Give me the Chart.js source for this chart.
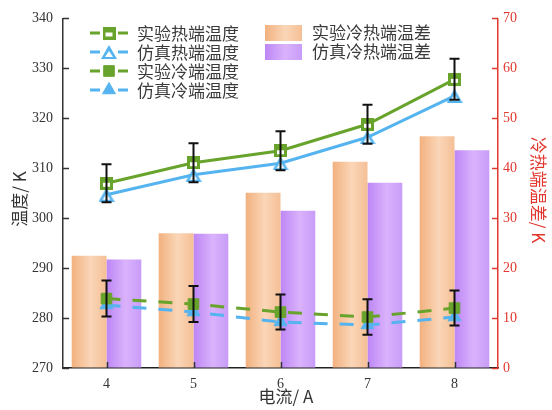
<!DOCTYPE html>
<html><head><meta charset="utf-8">
<script src="https://cdn.jsdelivr.net/npm/chart.js@4.4.0/dist/chart.umd.min.js"></script>
<style>html,body{margin:0;padding:0;background:#fff}canvas{display:block}</style>
</head><body>
<canvas id="c" width="552" height="410"></canvas>
<script>
// Current (A) on the category axis
const currents = ['4', '5', '6', '7', '8'];
// Hot / cold end temperatures (K), left axis
const hotExp = [307.0, 311.1, 313.5, 318.8, 327.8];
const hotSim = [304.7, 308.7, 311.0, 316.2, 324.5];
const coldExp = [283.9, 282.8, 281.2, 280.2, 282.0];
const coldSim = [282.6, 281.2, 279.2, 278.6, 280.2];
// Measurement uncertainty of the experimental series (K)
const hotExpErr = [3.8, 3.9, 3.9, 3.9, 4.1];
const coldExpErr = [3.6, 3.6, 3.5, 3.55, 3.5];
// Hot-cold temperature difference (K), right axis
const diffExp = [22.5, 27.0, 35.1, 41.3, 46.4];
const diffSim = [21.7, 26.9, 31.5, 37.1, 43.6];

const GREEN = '#68a32c';
const BLUE = '#55b4ef';
const RED = '#e2382f';
const CJK = '"Noto Sans CJK SC", sans-serif';
const SERIF = '"Liberation Serif", "DejaVu Serif", serif';

const barStops = {
  orange: ['#f2b17f', '#fad6b8', '#f5bf95'],
  purple: ['#bd86f5', '#dab2fc', '#c89cf8']
};

function hGradient(ctx, x0, x1, stops) {
  const g = ctx.createLinearGradient(x0, 0, x1, 0);
  g.addColorStop(0, stops[0]);
  g.addColorStop(0.55, stops[1]);
  g.addColorStop(1, stops[2]);
  return g;
}

// Half-filled marker glyphs for the hot-end series
function squareMarker(color) {
  const c = document.createElement('canvas');
  c.width = 13; c.height = 13;
  const g = c.getContext('2d');
  g.fillStyle = color;
  g.fillRect(0, 0, 13, 13);
  g.fillStyle = '#ffffff';
  g.fillRect(3, 6, 7, 4);
  return c;
}
function triangleMarker(color) {
  const c = document.createElement('canvas');
  c.width = 16; c.height = 14;
  const g = c.getContext('2d');
  g.fillStyle = color;
  g.beginPath(); g.moveTo(8, 0); g.lineTo(16, 14); g.lineTo(0, 14); g.closePath(); g.fill();
  g.fillStyle = '#ffffff';
  g.beginPath(); g.moveTo(8, 6); g.lineTo(12, 12); g.lineTo(4, 12); g.closePath(); g.fill();
  return c;
}
const hotSquare = squareMarker(GREEN);
const hotTriangle = triangleMarker(BLUE);

// Fixed axis sizes so the plot area sits where it should
const fixWidth = w => scale => { scale.width = w; };

// Horizontal gradient on each bar
const barGradient = {
  id: 'barGradient',
  beforeDatasetsDraw(chart) {
    const ctx = chart.ctx;
    chart.data.datasets.forEach((ds, i) => {
      if (ds.type !== 'bar') return;
      chart.getDatasetMeta(i).data.forEach(el => {
        const p = el.getProps(['x', 'width'], true);
        el.options.backgroundColor = hGradient(ctx, p.x - p.width / 2, p.x + p.width / 2, barStops[ds.gradient]);
      });
    });
  }
};

// Error bars for the experimental series
const errorBars = {
  id: 'errorBars',
  afterDatasetsDraw(chart) {
    const ctx = chart.ctx;
    const x = chart.scales.x, y = chart.scales.y;
    ctx.save();
    ctx.strokeStyle = '#111';
    ctx.lineWidth = 2;
    chart.data.datasets.forEach(ds => {
      if (!ds.err) return;
      ds.data.forEach((v, i) => {
        const px = x.getPixelForValue(i);
        const top = y.getPixelForValue(v + ds.err[i]);
        const bot = y.getPixelForValue(v - ds.err[i]);
        ctx.beginPath();
        ctx.moveTo(px, top); ctx.lineTo(px, bot);
        ctx.moveTo(px - 5, top); ctx.lineTo(px + 5, top);
        ctx.moveTo(px - 5, bot); ctx.lineTo(px + 5, bot);
        ctx.stroke();
      });
    });
    ctx.restore();
  }
};

// Inward tick marks on all three axes
const innerTicks = {
  id: 'innerTicks',
  afterDraw(chart) {
    const ctx = chart.ctx, a = chart.chartArea;
    const {x, y, y2} = chart.scales;
    ctx.save();
    ctx.lineWidth = 1.5;
    ctx.strokeStyle = '#333';
    y.ticks.forEach((t, i) => {
      const py = Math.round(y.getPixelForTick(i)) + 0.5;
      ctx.beginPath(); ctx.moveTo(a.left, py); ctx.lineTo(a.left + 6, py); ctx.stroke();
    });
    x.ticks.forEach((t, i) => {
      const px = Math.round(x.getPixelForValue(i)) + 0.5;
      ctx.beginPath(); ctx.moveTo(px, a.bottom); ctx.lineTo(px, a.bottom - 6); ctx.stroke();
    });
    ctx.strokeStyle = RED;
    y2.ticks.forEach((t, i) => {
      const py = Math.round(y2.getPixelForTick(i)) + 0.5;
      ctx.beginPath(); ctx.moveTo(a.right, py); ctx.lineTo(a.right - 6, py); ctx.stroke();
    });
    ctx.restore();
  }
};

// Legends and axis titles
const annotations = {
  id: 'annotations',
  afterDraw(chart) {
    const ctx = chart.ctx;
    const drawPoint = Chart.helpers.drawPoint;
    ctx.save();
    ctx.textBaseline = 'middle';
    ctx.font = '17px ' + CJK;

    // line series legend
    let row = 0;
    chart.data.datasets.forEach(ds => {
      if (ds.type !== 'line') return;
      const cy = 33 + row * 19;
      ctx.strokeStyle = ds.borderColor;
      ctx.lineWidth = 3;
      ctx.setLineDash([]);
      ctx.beginPath(); ctx.moveTo(90, cy); ctx.lineTo(100, cy); ctx.moveTo(118, cy); ctx.lineTo(128, cy); ctx.stroke();
      ctx.fillStyle = ds.pointBackgroundColor;
      ctx.strokeStyle = ds.borderColor;
      ctx.lineWidth = ds.pointBorderWidth;
      drawPoint(ctx, {pointStyle: ds.pointStyle, radius: ds.pointRadius, borderWidth: ds.pointBorderWidth, rotation: 0}, 109, cy);
      ctx.fillStyle = '#3a3a3a';
      ctx.textAlign = 'left';
      ctx.fillText(ds.label, 137, cy + 1);
      row++;
    });

    // bar series legend
    row = 0;
    chart.data.datasets.forEach(ds => {
      if (ds.type !== 'bar') return;
      const top = 25 + row * 19;
      ctx.fillStyle = hGradient(ctx, 265, 302, barStops[ds.gradient]);
      ctx.fillRect(265, top, 37, 16);
      ctx.fillStyle = '#3a3a3a';
      ctx.fillText(ds.label, 312, top + 8);
      row++;
    });

    // axis titles
    ctx.textAlign = 'center';
    ctx.fillStyle = '#333';
    ctx.fillText('电流/ A', 286, 397);
    ctx.save();
    ctx.translate(20, 199);
    ctx.rotate(-Math.PI / 2);
    ctx.fillText('温度/ K', 0, 0);
    ctx.restore();
    ctx.save();
    ctx.translate(538, 190);
    ctx.rotate(Math.PI / 2);
    ctx.fillStyle = RED;
    ctx.fillText('冷热端温差/ K', 0, 0);
    ctx.restore();
    ctx.restore();
  }
};

const lineBase = {type: 'line', yAxisID: 'y', borderWidth: 3, order: 0};

new Chart(document.getElementById('c'), {
  data: {
    labels: currents,
    datasets: [
      {...lineBase, label: '实验热端温度', data: hotExp, err: hotExpErr, borderColor: GREEN,
        pointStyle: hotSquare, pointRadius: 7, pointBorderWidth: 0, pointBackgroundColor: GREEN, pointBorderColor: GREEN},
      {...lineBase, label: '仿真热端温度', data: hotSim, borderColor: BLUE,
        pointStyle: hotTriangle, pointRadius: 8, pointBorderWidth: 0, pointBackgroundColor: BLUE, pointBorderColor: BLUE},
      {...lineBase, label: '实验冷端温度', data: coldExp, err: coldExpErr, borderColor: GREEN, borderDash: [14, 12],
        pointStyle: 'rect', pointRadius: 7.5, pointBorderWidth: 1, pointBackgroundColor: GREEN, pointBorderColor: GREEN},
      {...lineBase, label: '仿真冷端温度', data: coldSim, borderColor: BLUE, borderDash: [14, 12],
        pointStyle: 'triangle', pointRadius: 7.5, pointBorderWidth: 1, pointBackgroundColor: BLUE, pointBorderColor: BLUE},
      {type: 'bar', label: '实验冷热端温差', data: diffExp, yAxisID: 'y2', order: 1, gradient: 'orange',
        backgroundColor: () => '#f5c29b', categoryPercentage: 0.8, barPercentage: 1.0},
      {type: 'bar', label: '仿真冷热端温差', data: diffSim, yAxisID: 'y2', order: 1, gradient: 'purple',
        backgroundColor: () => '#cc9ef8', categoryPercentage: 0.8, barPercentage: 1.0}
    ]
  },
  options: {
    responsive: false,
    devicePixelRatio: 1,
    animation: false,
    layout: {padding: {top: 17, left: 0, right: 0, bottom: 0}},
    plugins: {legend: {display: false}, tooltip: {enabled: false}},
    scales: {
      x: {
        type: 'category', offset: true,
        afterFit: s => { s.height = 42; },
        grid: {display: true, drawOnChartArea: false, drawTicks: false},
        border: {display: true, color: '#222', width: 1.5},
        ticks: {padding: 8, color: '#333', font: {family: SERIF, size: 14}}
      },
      y: {
        position: 'left', min: 270, max: 340,
        afterFit: fixWidth(63),
        grid: {display: true, drawOnChartArea: false, drawTicks: false},
        border: {display: true, color: '#333', width: 1.5},
        ticks: {stepSize: 10, padding: 10, color: '#333', font: {family: SERIF, size: 14}}
      },
      y2: {
        position: 'right', min: 0, max: 70,
        afterFit: fixWidth(54),
        grid: {display: true, drawOnChartArea: false, drawTicks: false},
        border: {display: true, color: RED, width: 1.5},
        ticks: {stepSize: 10, padding: 5, color: RED, font: {family: SERIF, size: 14}}
      }
    }
  },
  plugins: [barGradient, errorBars, innerTicks, annotations]
});
</script>
</body></html>
